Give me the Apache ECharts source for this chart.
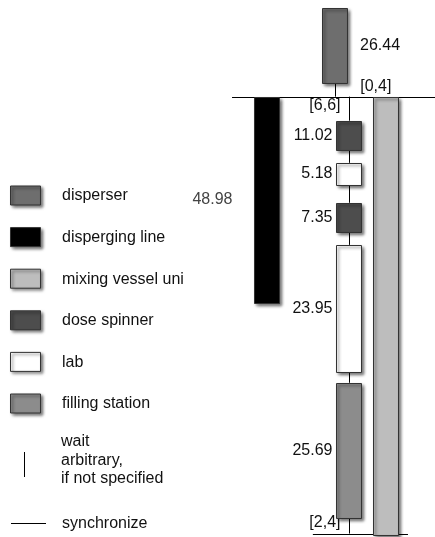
<!DOCTYPE html>
<html><head><meta charset="utf-8">
<script src="https://cdn.jsdelivr.net/npm/echarts@6/dist/echarts.min.js"></script>
<style>html,body{margin:0;padding:0;background:#fff}#c{width:435px;height:537px}</style>
</head><body><div id="c"></div>
<script>
// lanes (tracks) of the schematic
const laneNames = ['disperging line', 'disperser', 'process', 'mixing vessel'];
const laneX = [0, 2.65, 3.22, 4.67];

// tasks: schematic start / end (time runs downward, 0 = synchronisation)
const taskNames = ['disperser', 'disperging line', 'mixing vessel uni', 'dose spinner', 'lab', 'dose spinner', 'lab', 'filling station'];
const taskLane  = [1, 0, 3, 2, 2, 2, 2, 2];
const taskStart = [-20.7, 0, 0, 5.6, 15.4, 24.7, 34.5, 66.6];
const taskEnd   = [-3.3, 48.0, 102.0, 12.3, 20.5, 31.4, 64.0, 98.0];
const taskValue = ['26.44', '48.98', '', '11.02', '5.18', '7.35', '23.95', '25.69'];

// waits between tasks
const waitLane  = [1, 2, 2, 2, 2, 2, 2];
const waitFrom  = [-3.3, 0, 12.3, 20.5, 31.4, 64.0, 98.0];
const waitTo    = [0, 5.6, 15.4, 24.7, 34.5, 66.6, 101.7];
const waitLabel = ['[0,4]', '[6,6]', '', '', '', '', '[2,4]'];

// synchronisation lines
const syncTime = [0, 101.7];
const syncFrom = [-1.37, 1.8];
const syncTo   = [6.6, 5.53];

// legend
const legendNames = ['disperser', 'disperging line', 'mixing vessel uni', 'dose spinner', 'lab', 'filling station'];
const waitLegend = ['wait', 'arbitrary,', 'if not specified'];
const syncLegend = 'synchronize';

const typeColor = {
  'disperser': '#6e6e6e',
  'disperging line': '#000000',
  'mixing vessel uni': '#bdbdbd',
  'dose spinner': '#4d4d4d',
  'lab': '#ffffff',
  'filling station': '#8c8c8c'
};
const FONT = '"Liberation Sans", Helvetica, Arial, sans-serif';
const shadow = {shadowBlur: 3, shadowOffsetX: 2, shadowOffsetY: 2, shadowColor: 'rgba(0,0,0,0.55)'};

const chart = echarts.init(document.getElementById('c'), null, {renderer: 'canvas'});

const graphics = [];
legendNames.forEach((n, i) => {
  const cy = 195 + i * 41.6;
  graphics.push({type: 'rect', left: 10, top: cy - 9.5, shape: {width: 30, height: 19},
    style: Object.assign({fill: typeColor[n], stroke: '#333', lineWidth: 1}, shadow)});
  graphics.push({type: 'text', left: 62, top: cy - 7, style: {text: n, font: '16px ' + FONT, fill: '#111'}});
});
graphics.push({type: 'line', shape: {x1: 24.5, y1: 452, x2: 24.5, y2: 477}, style: {stroke: '#000', lineWidth: 1}});
waitLegend.forEach((t, i) => {
  graphics.push({type: 'text', left: 61, top: 434 + i * 18.5, style: {text: t, font: '16px ' + FONT, fill: '#111'}});
});
graphics.push({type: 'line', shape: {x1: 11, y1: 523.5, x2: 46, y2: 523.5}, style: {stroke: '#000', lineWidth: 1}});
graphics.push({type: 'text', left: 62, top: 516, style: {text: syncLegend, font: '16px ' + FONT, fill: '#111'}});

chart.setOption({
  animation: false,
  backgroundColor: '#fff',
  grid: {left: 0, right: 0, top: 0, bottom: 0},
  xAxis: {type: 'value', min: -10.47, max: 6.59, show: false},
  yAxis: {type: 'value', min: -22.5, max: 102.5, inverse: true, show: false},
  graphic: graphics,
  series: [
    {
      type: 'custom', name: 'sync', clip: false, z: 1,
      data: syncTime.map((t, i) => [syncFrom[i], syncTo[i], t]),
      encode: {x: [0, 1], y: 2},
      renderItem: (params, api) => {
        const a = api.coord([api.value(0), api.value(2)]);
        const b = api.coord([api.value(1), api.value(2)]);
        return {type: 'line', shape: {x1: a[0], y1: Math.round(a[1]) + 0.5, x2: b[0], y2: Math.round(b[1]) + 0.5},
          style: {stroke: '#000', lineWidth: 1}};
      }
    },
    {
      type: 'custom', name: 'wait', clip: false, z: 2,
      data: waitLane.map((l, i) => [laneX[l], waitFrom[i], waitTo[i]]),
      encode: {x: 0, y: [1, 2]},
      renderItem: (params, api) => {
        const i = params.dataIndex;
        const a = api.coord([api.value(0), api.value(1)]);
        const b = api.coord([api.value(0), api.value(2)]);
        const x = Math.round(a[0]) + 0.5;
        const children = [{type: 'line', shape: {x1: x, y1: a[1], x2: x, y2: b[1]}, style: {stroke: '#000', lineWidth: 1}}];
        const lab = waitLabel[i];
        if (lab) {
          const right = waitLane[i] === 1;
          const w = api.size([1, 0])[0];
          children.push({type: 'text', style: {
            text: lab, x: right ? x + w / 2 + 12 : x - 9, y: (a[1] + b[1]) / 2 - 3,
            align: right ? 'left' : 'right', verticalAlign: 'middle', font: '16px ' + FONT, fill: '#111'}});
        }
        return {type: 'group', children};
      }
    },
    {
      type: 'custom', name: 'tasks', clip: false, z: 3,
      data: taskNames.map((n, i) => [laneX[taskLane[i]], taskStart[i], taskEnd[i]]),
      encode: {x: 0, y: [1, 2]},
      renderItem: (params, api) => {
        const i = params.dataIndex;
        const a = api.coord([api.value(0), api.value(1)]);
        const b = api.coord([api.value(0), api.value(2)]);
        const w = api.size([1, 0])[0];
        const x0 = Math.round(a[0] - w / 2) + 0.5;
        const children = [{type: 'rect', shape: {x: x0, y: Math.round(a[1]) + 0.5, width: Math.round(w), height: Math.round(b[1] - a[1])},
          style: Object.assign({fill: typeColor[taskNames[i]], stroke: '#333', lineWidth: 1}, shadow)}];
        const lab = taskValue[i];
        if (lab) {
          const lane = taskLane[i];
          let tx, align;
          if (lane === 1) { tx = x0 + w + 12; align = 'left'; }
          else if (lane === 0) { tx = x0 - 22; align = 'right'; }
          else { tx = x0 - 4; align = 'right'; }
          children.push({type: 'text', style: {
            text: lab, x: tx, y: (a[1] + b[1]) / 2, align, verticalAlign: 'middle',
            font: '16px ' + FONT, fill: lane === 0 ? '#444' : '#111'}});
        }
        return {type: 'group', children};
      }
    }
  ]
});
</script>
</body></html>
